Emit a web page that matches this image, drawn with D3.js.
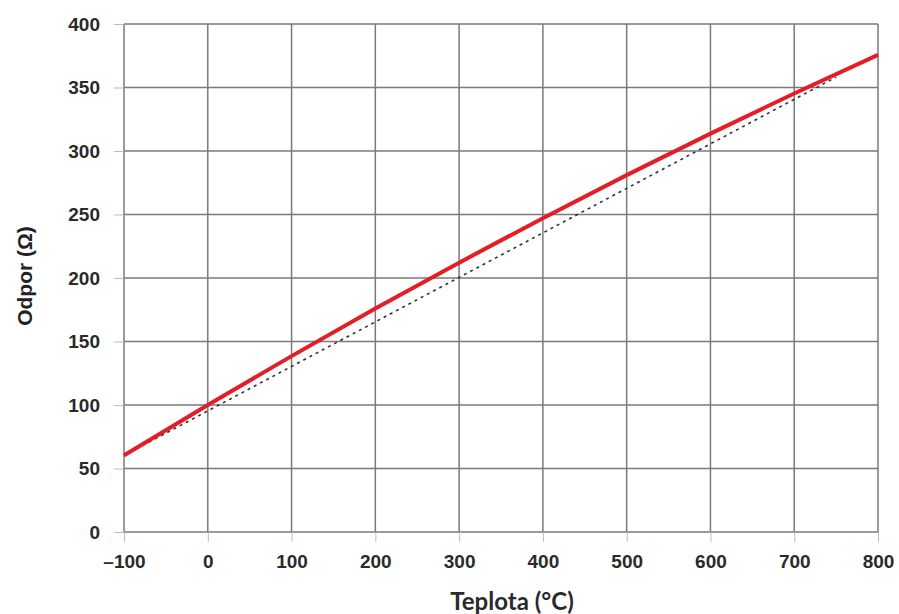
<!DOCTYPE html>
<html>
<head>
<meta charset="utf-8">
<script src="https://cdn.jsdelivr.net/npm/d3@7"></script>
<style>
  body { margin: 0; background: #fff; }
  .tick text { font-family: "Liberation Sans", Arial, sans-serif; font-weight: bold; font-size: 19px; fill: #2a2a2a; }
</style>
</head>
<body>
<div id="chart"></div>
<script>
// Pt100 curve (temperature °C, resistance Ω)
const temps = [-100, 0, 100, 200, 300, 400, 500, 600, 700, 800];
const resistance = [60.3, 100, 138.5, 175.9, 212.1, 247.1, 281.0, 313.7, 345.3, 375.7];
// dashed straight reference line
const lineTemps = [-100, 750];
const lineValues = [60.3, 358.2];
const xTicks = [-100, 0, 100, 200, 300, 400, 500, 600, 700, 800];
const yTicks = [0, 50, 100, 150, 200, 250, 300, 350, 400];

const margin = { top: 24, right: 21, bottom: 82, left: 124 };
const width = 899 - margin.left - margin.right;
const height = 614 - margin.top - margin.bottom;

const svg = d3
  .select("#chart")
  .append("svg")
  .attr("width", 899)
  .attr("height", 614)
  .append("g")
  .attr("transform", "translate(" + margin.left + "," + margin.top + ")");

const x = d3.scaleLinear().domain([-100, 800]).range([0, width]);
const y = d3.scaleLinear().domain([0, 400]).range([height, 0]);

// grid
svg
  .append("g")
  .selectAll("line")
  .data(yTicks)
  .enter()
  .append("line")
  .attr("x1", 0)
  .attr("x2", width)
  .attr("y1", (d) => y(d))
  .attr("y2", (d) => y(d))
  .attr("stroke", "#7a7a7a")
  .attr("stroke-width", 1.5);

svg
  .append("g")
  .selectAll("line")
  .data(xTicks)
  .enter()
  .append("line")
  .attr("x1", (d) => x(d))
  .attr("x2", (d) => x(d))
  .attr("y1", 0)
  .attr("y2", height)
  .attr("stroke", "#7a7a7a")
  .attr("stroke-width", 1.5);

// axes
const yAxis = svg
  .append("g")
  .call(d3.axisLeft(y).tickValues(yTicks).tickSize(10).tickPadding(14));
yAxis.select(".domain").remove();
yAxis.selectAll("line").attr("stroke", "#bbb");

const xAxis = svg
  .append("g")
  .attr("transform", "translate(0," + height + ")")
  .call(
    d3.axisBottom(x)
      .tickValues(xTicks)
      .tickSize(10)
      .tickPadding(13)
      .tickFormat((d) => (d < 0 ? "\u2013" + Math.abs(d) : d))
  );
xAxis.select(".domain").remove();
xAxis.selectAll("line").attr("stroke", "#bbb");

// dashed straight line
svg
  .append("path")
  .datum(lineTemps.map((t, i) => [t, lineValues[i]]))
  .attr("fill", "none")
  .attr("stroke", "#333")
  .attr("stroke-width", 1.6)
  .attr("stroke-dasharray", "3,4")
  .attr("d", d3.line().x((d) => x(d[0])).y((d) => y(d[1])));

// red curve
svg
  .append("path")
  .datum(temps.map((t, i) => [t, resistance[i]]))
  .attr("fill", "none")
  .attr("stroke", "#e41e26")
  .attr("stroke-width", 4)
  .attr("d", d3.line().curve(d3.curveMonotoneX).x((d) => x(d[0])).y((d) => y(d[1])));

// axis titles
svg
  .append("text")
  .attr("x", 388)
  .attr("y", height + 78)
  .attr("text-anchor", "middle")
  .style("font-family", "Lato, 'Open Sans', sans-serif")
  .style("font-weight", "bold")
  .style("font-size", "24px")
  .style("fill", "#2a2a2a")
  .text("Teplota (°C)");

svg
  .append("text")
  .attr("transform", "rotate(-90)")
  .attr("x", -height / 2 + 2)
  .attr("y", -margin.left + 32)
  .attr("text-anchor", "middle")
  .style("font-family", "'Liberation Sans', Arial, sans-serif")
  .style("font-weight", "bold")
  .style("font-size", "21px")
  .style("fill", "#222")
  .text("Odpor (Ω)");
</script>
</body>
</html>
